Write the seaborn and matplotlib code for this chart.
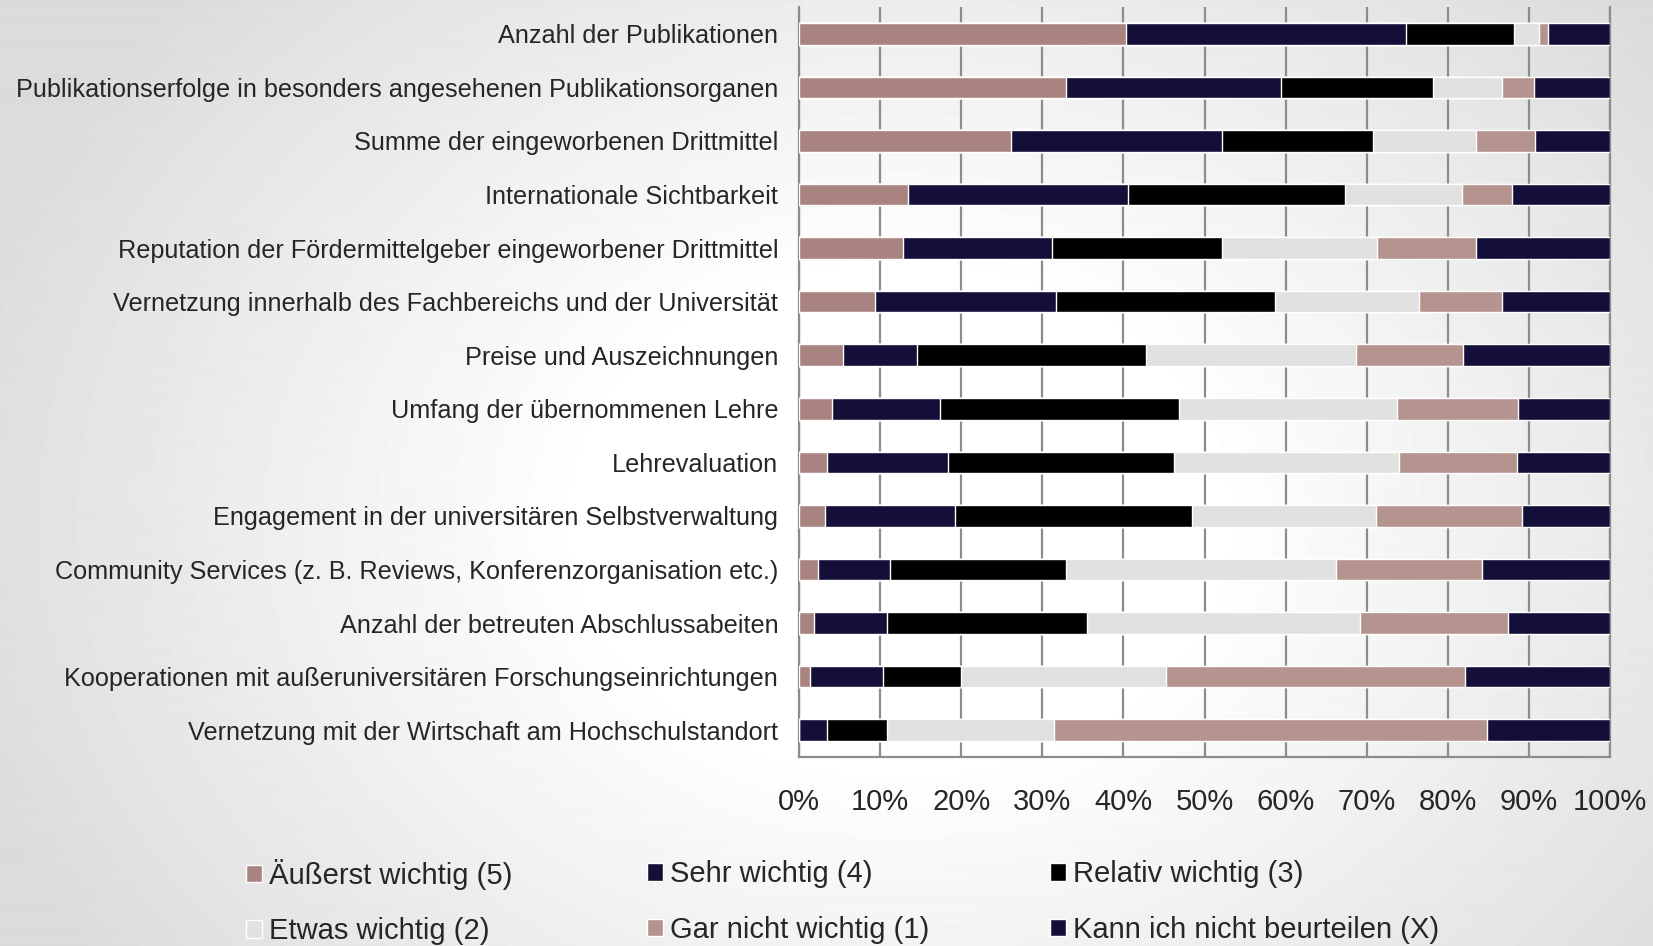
import matplotlib
matplotlib.use('Agg')
import matplotlib.pyplot as plt
from matplotlib.patches import Patch
import seaborn as sns
import numpy as np
import pandas as pd

sns.set_style("white")
plt.rcParams['font.family'] = ['Liberation Sans', 'DejaVu Sans']

categories = [
    "Anzahl der Publikationen",
    "Publikationserfolge in besonders angesehenen Publikationsorganen",
    "Summe der eingeworbenen Drittmittel",
    "Internationale Sichtbarkeit",
    "Reputation der Fördermittelgeber eingeworbener Drittmittel",
    "Vernetzung innerhalb des Fachbereichs und der Universität",
    "Preise und Auszeichnungen",
    "Umfang der übernommenen Lehre",
    "Lehrevaluation",
    "Engagement in der universitären Selbstverwaltung",
    "Community Services (z. B. Reviews, Konferenzorganisation etc.)",
    "Anzahl der betreuten Abschlussabeiten",
    "Kooperationen mit außeruniversitären Forschungseinrichtungen",
    "Vernetzung mit der Wirtschaft am Hochschulstandort",
]

# shares in percent
aeusserst = [40.3, 32.9, 26.2, 13.5, 12.8, 9.4, 5.4, 4.1, 3.5, 3.2, 2.4, 1.8, 1.4, 0.0]
sehr = [34.5, 26.5, 25.9, 27.1, 18.4, 22.3, 9.2, 13.3, 14.9, 16.0, 8.8, 9.1, 8.9, 3.5]
relativ = [13.4, 18.8, 18.7, 26.7, 20.9, 27.0, 28.2, 29.5, 27.8, 29.2, 21.7, 24.6, 9.7, 7.3]
etwas = [3.0, 8.5, 12.7, 14.4, 19.2, 17.7, 25.9, 26.8, 27.8, 22.7, 33.3, 33.7, 25.3, 20.7]
gar_nicht = [1.1, 3.9, 7.3, 6.2, 12.2, 10.3, 13.2, 15.0, 14.5, 18.1, 18.0, 18.2, 36.8, 53.3]
kann_nicht = [7.7, 9.4, 9.2, 12.1, 16.5, 13.3, 18.1, 11.3, 11.5, 10.8, 15.8, 12.6, 17.9, 15.2]

labels = ["Äußerst wichtig (5)", "Sehr wichtig (4)", "Relativ wichtig (3)",
          "Etwas wichtig (2)", "Gar nicht wichtig (1)", "Kann ich nicht beurteilen (X)"]
colors = ["#A98380", "#140F38", "#000000", "#E1E1E1", "#B5938F", "#140F38"]

df = pd.DataFrame({"cat": categories, "a": aeusserst, "b": sehr, "c": relativ,
                   "d": etwas, "e": gar_nicht, "f": kann_nicht})
cols = ["a", "b", "c", "d", "e", "f"]
raw = df[cols].values
df[cols] = raw / raw.sum(axis=1, keepdims=True) * 100
cum = df[cols].cumsum(axis=1)

fig = plt.figure(figsize=(16.53, 9.46), dpi=100)

# radial background gradient
bg = fig.add_axes([0, 0, 1, 1], zorder=-10)
yy, xx = np.mgrid[0:946, 0:1653]
r = np.sqrt(((xx - 900) / 900.0) ** 2 + ((yy - 520) / 700.0) ** 2)
shade = 1 - 0.14 * np.clip((r - 0.35) / 0.75, 0, 1)
bg.imshow(shade, cmap="gray", vmin=0, vmax=1, aspect="auto", extent=[0, 1, 0, 1])
bg.axis("off")

ax = fig.add_axes([799 / 1653, 1 - 757 / 946, 811 / 1653, 750 / 946])
ax.patch.set_alpha(0)

# overlay cumulative bars, longest first
for i in range(len(cols) - 1, -1, -1):
    tmp = pd.DataFrame({"cat": df["cat"], "val": cum[cols[i]]})
    sns.barplot(data=tmp, x="val", y="cat", orient="h", color=colors[i],
                saturation=1, width=0.405, errorbar=None, ax=ax, zorder=3)

ax.set_xlim(0, 100)
ax.set_xticks(np.arange(0, 101, 10))
ax.set_xticklabels([f"{t}%" for t in range(0, 101, 10)], fontsize=21)
ax.tick_params(axis="x", length=0, pad=22)
ax.tick_params(axis="y", length=0, pad=15, labelsize=18.2)
ax.set_xlabel("")
ax.set_ylabel("")
ax.grid(axis="x", color="#8C8C8C", lw=1.6, zorder=0)
ax.set_axisbelow(True)
for s in ["left", "bottom", "right"]:
    ax.spines[s].set_color("#8C8C8C")
    ax.spines[s].set_linewidth(1.6)
ax.spines["top"].set_visible(False)

# legend: three columns of two entries each
handles = [Patch(facecolor=c, label=l) for c, l in zip(colors, labels)]
col_x = [246, 647, 1050]
for k in range(3):
    leg = fig.legend([handles[k], handles[k + 3]], [labels[k], labels[k + 3]],
                     loc="center left", bbox_to_anchor=(col_x[k] / 1653, 1 - 902 / 946),
                     frameon=False, fontsize=21, handlelength=0.55, handleheight=0.55,
                     handletextpad=0.25, labelspacing=0.94,
                     borderaxespad=0, borderpad=0)

fig.savefig("out.png", dpi=100)
